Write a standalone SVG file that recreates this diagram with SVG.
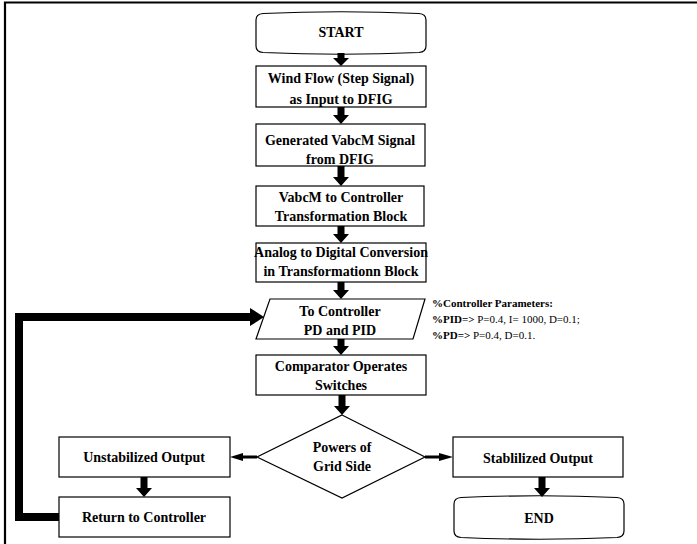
<svg xmlns="http://www.w3.org/2000/svg" width="697" height="544" viewBox="0 0 697 544">
<style>
.b{fill:#fff;stroke:#000;stroke-width:1.2}
.t{font-family:"Liberation Serif","Times New Roman",serif;font-weight:bold;font-size:14px;text-anchor:middle;fill:#000}
.p{font-family:"Liberation Serif","Times New Roman",serif;font-size:11px;fill:#000}
.a{fill:#000}
</style>
<rect width="697" height="544" fill="#fff"/>
<path d="M5,544 V2.5 H697" fill="none" stroke="#000" stroke-width="2.2"/>
<g id="start">
<path class="b" d="M256,20 Q256,14 263,13.5 Q341,10 419,13.5 Q426,14 426,20 L426,46 Q426,52 419,52.5 Q341,56 263,52.5 Q256,52 256,46 Z"/>
<text class="t" x="341" y="37">START</text>
</g>
<g id="wind">
<rect class="b" x="256" y="66" width="170" height="41"/>
<text class="t" x="341" y="83">Wind Flow (Step Signal)</text>
<text class="t" x="341" y="104">as Input to DFIG</text>
</g>
<g id="generated">
<rect class="b" x="256" y="124" width="169" height="42"/>
<text class="t" x="340" y="145">Generated VabcM Signal</text>
<text class="t" x="340" y="164">from DFIG</text>
</g>
<g id="vabcm">
<rect class="b" x="256" y="186" width="168" height="40"/>
<text class="t" x="341" y="202">VabcM to Controller</text>
<text class="t" x="341" y="221">Transformation Block</text>
</g>
<g id="analog">
<rect class="b" x="256" y="243" width="170" height="39"/>
<text class="t" x="341" y="257">Analog to Digital Conversion</text>
<text class="t" x="341" y="276">in Transformationn Block</text>
</g>
<g id="controller">
<polygon class="b" points="270,299 425,299 413,339 256,339"/>
<text class="t" x="340" y="316">To Controller</text>
<text class="t" x="340" y="335">PD and PID</text>
</g>
<g id="params">
<text class="p" x="432" y="307"><tspan font-weight="bold">%Controller Parameters:</tspan></text>
<text class="p" x="432" y="323"><tspan font-weight="bold">%PID=&gt;</tspan> P=0.4, I= 1000, D=0.1;</text>
<text class="p" x="432" y="339"><tspan font-weight="bold">%PD=&gt;</tspan> P=0.4, D=0.1.</text>
</g>
<g id="comparator">
<rect class="b" x="256" y="355" width="170" height="40"/>
<text class="t" x="341" y="371">Comparator Operates</text>
<text class="t" x="341" y="390">Switches</text>
</g>
<g id="decision">
<polygon class="b" points="342,415 425,457 342,498 257,457"/>
<text class="t" x="342" y="452">Powers of</text>
<text class="t" x="342" y="471">Grid Side</text>
</g>
<g id="unstab">
<rect class="b" x="59" y="437" width="171" height="40"/>
<text class="t" x="144" y="462">Unstabilized Output</text>
</g>
<g id="return">
<rect class="b" x="59" y="497" width="171" height="40"/>
<text class="t" x="144" y="522">Return to Controller</text>
</g>
<g id="stab">
<rect class="b" x="453" y="437" width="170" height="40"/>
<text class="t" x="538" y="463">Stablilized Output</text>
</g>
<g id="end">
<path class="b" d="M454,504 Q454,498 461,497.5 Q539,494 617,497.5 Q624,498 624,504 L624,531 Q624,537 617,537.5 Q539,541 461,537.5 Q454,537 454,531 Z"/>
<text class="t" x="539" y="523">END</text>
</g>
<g id="connectors">
<polygon class="a" points="337.5,53 344.5,53 344.5,58 349,58 341,66 333,58 337.5,58"/>
<polygon class="a" points="337.5,107 344.5,107 344.5,115 349,115 341,124 333,115 337.5,115"/>
<polygon class="a" points="337.5,166 344.5,166 344.5,177 349,177 341,186 333,177 337.5,177"/>
<polygon class="a" points="337.5,226 344.5,226 344.5,234 349,234 341,243 333,234 337.5,234"/>
<polygon class="a" points="337.5,282 344.5,282 344.5,290 349,290 341,299 333,290 337.5,290"/>
<polygon class="a" points="337.5,339 344.5,339 344.5,346 349,346 341,355 333,346 337.5,346"/>
<polygon class="a" points="338.5,395 345.5,395 345.5,406 350,406 342,415 334,406 338.5,406"/>
<polygon class="a" points="140.5,477 147.5,477 147.5,488 152,488 144,497 136,488 140.5,488"/>
<polygon class="a" points="538.5,477 545.5,477 545.5,488 550,488 542,497 534,488 538.5,488"/>
<polygon class="a" points="257,455.5 243,455.5 243,453 230,457 243,461 243,458.5 257,458.5"/>
<polygon class="a" points="425,455.5 439,455.5 439,453 453,457 439,461 439,458.5 425,458.5"/>
<path d="M59,517 H19 V317 H252" fill="none" stroke="#000" stroke-width="8"/>
<polygon class="a" points="250,308 264,317 250,326"/>
</g>
</svg>
